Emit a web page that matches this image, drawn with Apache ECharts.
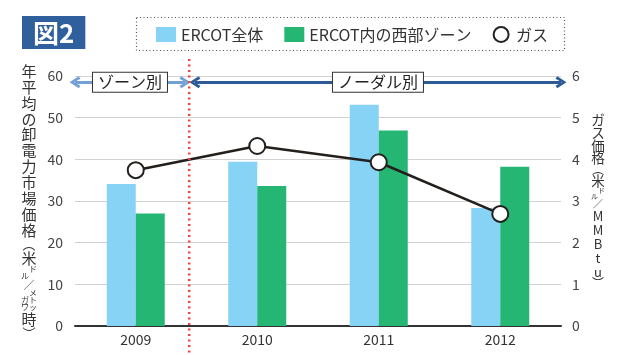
<!DOCTYPE html>
<html><head><meta charset="utf-8">
<script src="https://cdn.jsdelivr.net/npm/echarts@6/dist/echarts.min.js"></script>
<style>html,body{margin:0;padding:0;background:#fff}#c{width:623px;height:355px}</style>
</head><body><div id="c"></div>
<script>
const years = ['2009', '2010', '2011', '2012'];
const ercotAll = [34.1, 39.4, 53.1, 28.3];
const ercotWest = [27.0, 33.6, 46.9, 38.2];
const gasPrice = [3.74, 4.32, 3.93, 2.69];
const leftTicks = [0, 10, 20, 30, 40, 50, 60];
const rightTicks = [0, 1, 2, 3, 4, 5, 6];
const seriesNames = ['ERCOT全体', 'ERCOT内の西部ゾーン', 'ガス'];
const zoneLabel = 'ゾーン別';
const nodalLabel = 'ノーダル別';
// periods on a hidden value axis aligned with categories (category i at value i)
const zoneSpan = [-0.5, 0.405];
const nodalSpan = [0.487, 3.5];
const periodLevel = 58.5;
const dividerAt = 0.44;

const FONT = '"Noto Sans CJK JP", "Noto Sans", sans-serif';
const chart = echarts.init(document.getElementById('c'), null, {renderer: 'canvas'});

const leftName = [
  '{b|年}','{b|平}','{b|均}','{b|の}','{b|卸}','{b|電}','{b|力}','{b|市}','{b|場}','{b|価}','{b|格}',
  '{p|︵}','{b|米}','{sr|ド}','{sl|ル}','{q|／}','{sr|メ}','{s|ガト}','{s|ワッ}','{b|時}','{p|︶}'
].join('\n');
const rightName = [
  '{b|ガ}','{b|ス}','{b|価}','{b|格}','{p|︵}','{b|米}','{sr|ド}','{sl|ル}','{q|／}',
  '{m|M}','{m|M}','{m|B}','{m|t}','{m|u}','{p|︶}'
].join('\n');

const arrowPath = 'path://M5,0 L10,8 L8,9.5 L5,4 L2,9.5 L0,8 Z';
const boxLabel = {
  show: true, position: 'middle', distance: 0, verticalAlign: 'middle',
  color: '#222', fontSize: 16, fontFamily: FONT,
  backgroundColor: '#fff', borderColor: '#333', borderWidth: 1, padding: [2, 5, 1, 5]
};

chart.setOption({
  animation: false,
  textStyle: {fontFamily: FONT},
  title: {
    text: '図2', left: 22, top: 16, padding: [3, 11, 2, 11],
    backgroundColor: '#2f5f9c',
    textStyle: {color: '#fff', fontSize: 26, fontWeight: 'bold', fontFamily: FONT, lineHeight: 28}
  },
  legend: {
    left: 151, top: 21, itemWidth: 20, itemHeight: 15, itemGap: 21,
    textStyle: {fontSize: 16, color: '#333', fontFamily: FONT},
    data: [
      {name: seriesNames[0], icon: 'rect'},
      {name: seriesNames[1], icon: 'rect'},
      {name: seriesNames[2], icon: 'circle', itemStyle: {color: '#fff', borderColor: '#222', borderWidth: 2}}
    ]
  },
  grid: {left: 75, right: 62, top: 76, bottom: 29, containLabel: false},
  xAxis: [
    {type: 'category', data: years,
      axisLine: {lineStyle: {color: '#333', width: 2}}, axisTick: {show: false},
      axisLabel: {fontSize: 14, color: '#333', margin: 7}},
    {type: 'value', min: -0.5, max: 3.5, show: false}
  ],
  yAxis: [
    {type: 'value', min: 0, max: 60, interval: 10,
      axisLine: {show: false}, axisTick: {show: false},
      axisLabel: {fontSize: 14, color: '#444', margin: 12,
        formatter: v => leftTicks.includes(v) ? String(v) : ''},
      splitLine: {lineStyle: {color: '#d2d2d2', width: 1}},
      name: leftName, nameLocation: 'middle', nameRotate: 0, nameGap: 46,
      nameTextStyle: {align: 'center', verticalAlign: 'middle', color: '#333',
        rich: {
          b: {fontSize: 15, lineHeight: 15.9, color: '#333', fontFamily: FONT},
          p: {fontSize: 13, lineHeight: 12, color: '#333', fontFamily: FONT},
          q: {fontSize: 11, lineHeight: 10, color: '#333', fontFamily: FONT},
          s: {fontSize: 8, lineHeight: 7, color: '#333', fontFamily: FONT},
          sr: {fontSize: 8, lineHeight: 7, color: '#333', fontFamily: FONT, padding: [0, 0, 0, 8]},
          sl: {fontSize: 8, lineHeight: 7, color: '#333', fontFamily: FONT, padding: [0, 8, 0, 0]}
        }}
    },
    {type: 'value', min: 0, max: 6, interval: 1, position: 'right',
      axisLine: {show: false}, axisTick: {show: false}, splitLine: {show: false},
      axisLabel: {fontSize: 14, color: '#444', margin: 11,
        formatter: v => rightTicks.includes(v) ? String(v) : ''},
      name: rightName, nameLocation: 'middle', nameRotate: 0, nameGap: 37,
      nameTextStyle: {align: 'center', verticalAlign: 'middle', color: '#333',
        rich: {
          b: {fontSize: 13.5, lineHeight: 12.8, color: '#333', fontFamily: FONT},
          m: {fontSize: 13, lineHeight: 13.8, color: '#333', fontFamily: FONT},
          p: {fontSize: 12, lineHeight: 10, color: '#333', fontFamily: FONT},
          q: {fontSize: 10, lineHeight: 10, color: '#333', fontFamily: FONT},
          sr: {fontSize: 7, lineHeight: 6, color: '#333', fontFamily: FONT, padding: [0, 0, 0, 7]},
          sl: {fontSize: 7, lineHeight: 6, color: '#333', fontFamily: FONT, padding: [0, 7, 0, 0]}
        }}
    }
  ],
  series: [
    {name: seriesNames[0], type: 'bar', data: ercotAll, barWidth: 29, barGap: '0%',
      itemStyle: {color: '#87d3f6'}},
    {name: seriesNames[1], type: 'bar', data: ercotWest, barWidth: 29, barGap: '0%',
      itemStyle: {color: '#26b673'}},
    {name: seriesNames[2], type: 'line', yAxisIndex: 1, data: gasPrice,
      symbol: 'circle', symbolSize: 16, z: 5,
      lineStyle: {color: '#231f1c', width: 2.5},
      itemStyle: {color: '#fff', borderColor: '#231f1c', borderWidth: 2}},
    {name: 'periods', type: 'scatter', xAxisIndex: 1, yAxisIndex: 0, data: [], silent: true,
      markLine: {
        silent: true, symbol: [arrowPath, arrowPath], symbolSize: [12, 11], animation: false,
        data: [
          [{coord: [zoneSpan[0], periodLevel], lineStyle: {color: '#74a1d3', width: 3, type: 'solid'},
            label: Object.assign({}, boxLabel, {formatter: zoneLabel})},
           {coord: [zoneSpan[1], periodLevel]}],
          [{coord: [nodalSpan[0], periodLevel], lineStyle: {color: '#2d5b98', width: 3, type: 'solid'},
            label: Object.assign({}, boxLabel, {formatter: nodalLabel})},
           {coord: [nodalSpan[1], periodLevel]}]
        ]
      }}
  ]
});

// vertical dotted divider between the zonal and nodal periods
const dx = chart.convertToPixel({xAxisIndex: 1}, dividerAt);
chart.setOption({
  graphic: [
    {type: 'rect', shape: {x: 136.5, y: 17.5, width: 428, height: 33},
      style: {fill: 'none', stroke: '#555', lineWidth: 1.2, lineDash: [1, 2.5]}, silent: true},
    {type: 'line', shape: {x1: dx, y1: 59, x2: dx, y2: 355}, z: 10,
      style: {stroke: '#e8473f', lineWidth: 2.5, lineDash: [2, 3.5]}, silent: true}
  ]
});
</script></body></html>
